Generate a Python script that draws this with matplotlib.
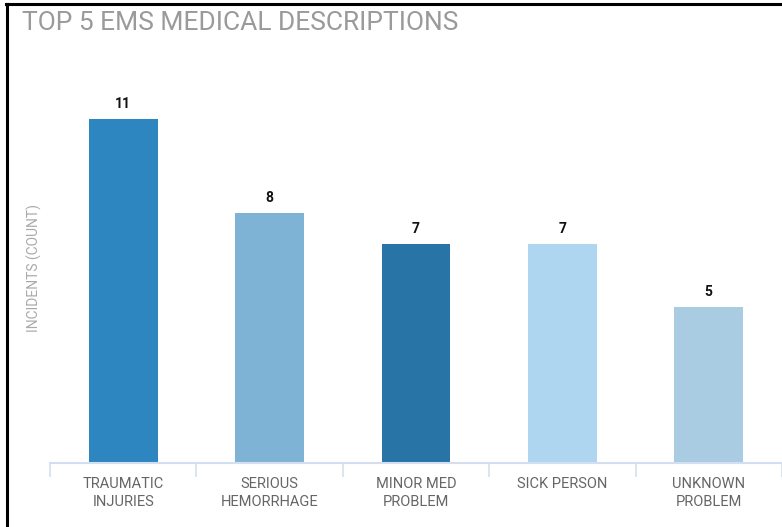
import matplotlib
matplotlib.use("Agg")
from matplotlib import pyplot as plt
from matplotlib.lines import Line2D
import numpy as np

categories = ["TRAUMATIC\nINJURIES", "SERIOUS\nHEMORRHAGE", "MINOR MED\nPROBLEM",
              "SICK PERSON", "UNKNOWN\nPROBLEM"]
counts = [11, 8, 7, 7, 5]
bar_colors = ["#2e86c1", "#7fb3d5", "#2874a6", "#aed6f1", "#a9cce3"]

plt.rcParams['font.family'] = ['Roboto', 'DejaVu Sans']

fig = plt.figure(figsize=(7.82, 5.27), dpi=100)
ax = fig.add_axes([0.0639, 0.1214, 0.936, 0.742])

x = np.arange(len(categories))
ax.bar(x, counts, width=0.47, color=bar_colors)
for xi, c in zip(x, counts):
    ax.text(xi, c + 0.25, str(c), ha="center", va="bottom",
            fontsize=10, fontweight="bold", color="#111111")

ax.set_xlim(-0.5, len(categories) - 0.5)
ax.set_ylim(0, 12.5)

# category labels + separator ticks
ax.set_xticks(x)
ax.set_xticklabels(categories, fontsize=10.5, color="#666666", linespacing=1.4)
ax.set_xticks(np.arange(-0.5, len(categories)), minor=True)
ax.tick_params(axis="x", which="major", length=0, pad=10)
ax.tick_params(axis="x", which="minor", length=10, width=1.2, color="#d3dff0")
ax.set_yticks([])

for s in ["top", "right", "left"]:
    ax.spines[s].set_visible(False)
ax.spines["bottom"].set_color("#d3dff0")
ax.spines["bottom"].set_linewidth(1.5)

ax.set_ylabel("INCIDENTS (COUNT)", fontsize=10, color="#aaaaaa")
ax.yaxis.set_label_coords(-0.011, 0.5)

fig.text(22 / 782, 1 - 23 / 527, "TOP 5 EMS MEDICAL DESCRIPTIONS",
         fontsize=19, color="#9a9a9a", va="center", ha="left")

# frame edges of the screenshot
fig.add_artist(Line2D([7 / 782, 7 / 782], [0, 1 - 4 / 527], color="black", lw=2.2))
fig.add_artist(Line2D([6 / 782, 1], [1 - 4 / 527, 1 - 4 / 527], color="black", lw=2.2))

fig.savefig("out.png", dpi=100)
